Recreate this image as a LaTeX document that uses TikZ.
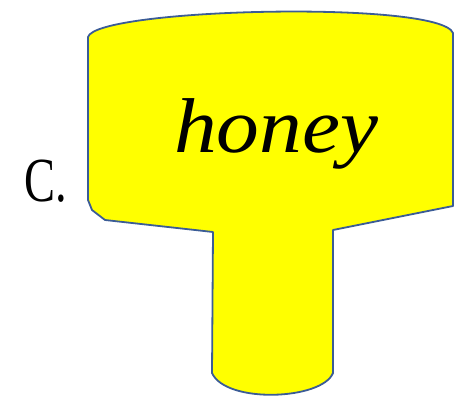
\documentclass[tikz,border=0pt]{standalone}
\usepackage{fontspec}
\setmainfont{Liberation Serif}
\usepackage{graphicx}
\usepackage{xcolor}
\usepackage{tikz}
\usetikzlibrary{positioning}
\definecolor{signblue}{HTML}{3B5C96}
\definecolor{signyellow}{HTML}{FFFF00}

\begin{document}
\begin{tikzpicture}[x=1bp,y=-1bp,
  sign/.style={draw=signblue,fill=signyellow,line width=1.8bp,line join=round},
  letter/.style={font=\fontsize{63}{66}\selectfont,inner sep=0pt,anchor=base west},
  word/.style={font=\fontsize{78}{86}\selectfont\itshape,inner sep=0pt,anchor=base west}]
\useasboundingbox (0,0) rectangle (465,404);
% ----- the sign: wide top, narrow stem -----
\draw[sign] (88,37) .. controls (96,8) and (440,0) .. (453,33)
  -- (453,206) -- (333,230) -- (333,373)
  .. controls (322,400) and (226,404) .. (212,373)
  -- (213,232) -- (105,220) -- (92,210) -- (88,200) -- cycle;
% ----- labels -----
\node[letter] (lbl) at (24,201) {\scalebox{0.74}[1]{C.}};
\node[word] (honey) at (174,152) {\scalebox{1.1}[1]{honey}};
\end{tikzpicture}
\end{document}
